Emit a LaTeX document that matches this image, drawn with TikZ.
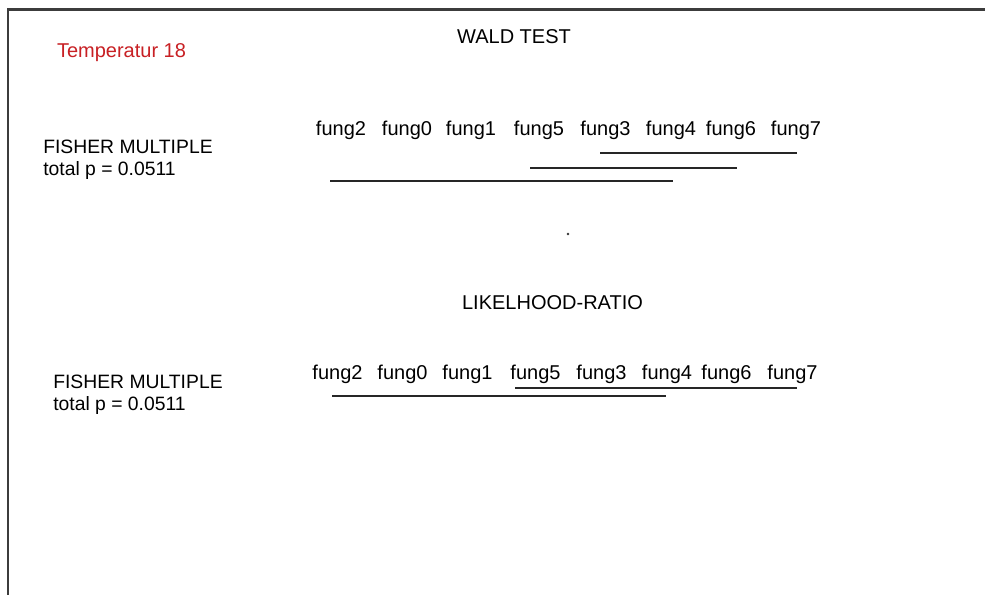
\documentclass[tikz,border=0pt]{standalone}
\usepackage{fontspec}
\setmainfont{Liberation Sans}
\definecolor{tempred}{RGB}{200,32,36}
\definecolor{framegray}{RGB}{60,60,60}
\begin{document}
\begin{tikzpicture}[x=0.75pt,y=-0.75pt,
  lbl/.style={inner sep=0pt,anchor=base,font=\fontsize{15}{18}\selectfont},
  leftlbl/.style={inner sep=0pt,anchor=base west,font=\fontsize{14.5}{17}\selectfont},
  fung/.style={inner sep=0pt,anchor=base,font=\fontsize{15}{18}\selectfont},
  uline/.style={line width=1.1pt,black!85}]
\useasboundingbox (0,0) rectangle (985,594);
\clip (0,0) rectangle (985,594);
\fill[white] (0,0) rectangle (985,594);
\draw[framegray,line width=1.6pt] (8,9.5) rectangle (1010,620);

\node[lbl,text=tempred] (temp) at (121.5,57) {Temperatur 18};
\node[lbl] (wald) at (514,43) {WALD TEST};
\node[lbl] (lr) at (552.5,309) {LIKELHOOD-RATIO};

\node[leftlbl] (fisherA) at (43,153) {FISHER MULTIPLE};
\node[leftlbl] (totalA) at (43,175) {total p = 0.0511};
\node[leftlbl] (fisherB) at (53,388) {FISHER MULTIPLE};
\node[leftlbl] (totalB) at (53,410) {total p = 0.0511};

% row 1 (Wald)
\node[fung] (a2) at (341,135) {fung2};
\node[fung] (a0) at (407,135) {fung0};
\node[fung] (a1) at (471,135) {fung1};
\node[fung] (a5) at (539,135) {fung5};
\node[fung] (a3) at (605.5,135) {fung3};
\node[fung] (a4) at (671,135) {fung4};
\node[fung] (a6) at (731,135) {fung6};
\node[fung] (a7) at (796,135) {fung7};

\coordinate (w1s) at (600,153);
\coordinate (w1e) at (797,153);
\coordinate (w2s) at (530,168);
\coordinate (w2e) at (737,168);
\coordinate (w3s) at (330,181);
\coordinate (w3e) at (673,181);
\draw[uline] (w1s) -- (w1e);
\draw[uline] (w2s) -- (w2e);
\draw[uline] (w3s) -- (w3e);

\coordinate (dot) at (568,234);
\fill[black!80] (dot) circle (1pt);

% row 2 (likelihood ratio)
\node[fung] (b2) at (337.5,379) {fung2};
\node[fung] (b0) at (402.5,379) {fung0};
\node[fung] (b1) at (467.5,379) {fung1};
\node[fung] (b5) at (535.5,379) {fung5};
\node[fung] (b3) at (601.5,379) {fung3};
\node[fung] (b4) at (667,379) {fung4};
\node[fung] (b6) at (726.5,379) {fung6};
\node[fung] (b7) at (792.5,379) {fung7};

\coordinate (l1s) at (515,388);
\coordinate (l1e) at (797,388);
\coordinate (l2s) at (332,396);
\coordinate (l2e) at (666,396);
\draw[uline] (l1s) -- (l1e);
\draw[uline] (l2s) -- (l2e);
\end{tikzpicture}
\end{document}
